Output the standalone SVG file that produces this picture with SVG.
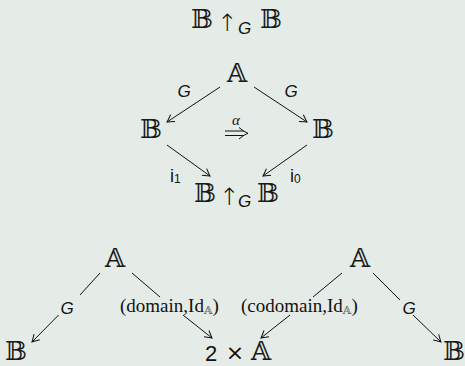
<svg xmlns="http://www.w3.org/2000/svg" width="465" height="366" viewBox="0 0 465 366">
  <defs>
    <style>
      .bb { font-family: "DejaVu Serif", "DejaVu Sans", serif; font-size: 26px; fill: #1a1a1a; }
      .lbl { font-family: "Liberation Sans", Arial, sans-serif; font-style: italic; font-size: 17px; fill: #111; }
      .sans { font-family: "Liberation Sans", Arial, sans-serif; fill: #111; }
      .rm { font-family: "Liberation Serif", "Times New Roman", serif; font-size: 19px; fill: #111; }
      .sub { font-family: "DejaVu Serif", serif; font-size: 11px; fill: #666; }
      .arr { font-family: "DejaVu Sans", sans-serif; font-weight: 200; font-size: 24px; fill: #111; }
      .edge { stroke: #111; stroke-width: 1; fill: none; }
    </style>
    <marker id="head" viewBox="-8 -5 9 10" refX="0" refY="0" markerWidth="9" markerHeight="10" markerUnits="userSpaceOnUse" orient="auto">
      <path d="M -7,-4 Q -2,-1 0,0 Q -2,1 -7,4" stroke="#111" stroke-width="1" fill="none"/>
    </marker>
  </defs>
  <rect x="0" y="0" width="465" height="366" fill="#e5ece8"/>

  <g id="title">
    <text class="bb" x="202" y="28" text-anchor="middle">𝔹</text>
    <text class="arr" x="227" y="31" text-anchor="middle">↑</text>
    <text class="lbl" x="238" y="34">G</text>
    <text class="bb" x="271" y="28" text-anchor="middle">𝔹</text>
  </g>

  <g id="nodeA">
    <text class="bb" x="237" y="82" text-anchor="middle">𝔸</text>
  </g>
  <g id="nodeB-left">
    <text class="bb" x="151" y="138" text-anchor="middle">𝔹</text>
  </g>
  <g id="nodeB-right">
    <text class="bb" x="323" y="138" text-anchor="middle">𝔹</text>
  </g>
  <g id="nodeBGB">
    <text class="bb" x="205" y="202" text-anchor="middle">𝔹</text>
    <text class="arr" x="229" y="205" text-anchor="middle">↑</text>
    <text class="lbl" x="238" y="207">G</text>
    <text class="bb" x="268" y="202" text-anchor="middle">𝔹</text>
  </g>

  <g id="nodeA-left">
    <text class="bb" x="115" y="267" text-anchor="middle">𝔸</text>
  </g>
  <g id="nodeA-right">
    <text class="bb" x="360" y="267" text-anchor="middle">𝔸</text>
  </g>
  <g id="nodeB-bottom-left">
    <text class="bb" x="16" y="360" text-anchor="middle">𝔹</text>
  </g>
  <g id="nodeB-bottom-right">
    <text class="bb" x="454" y="360" text-anchor="middle">𝔹</text>
  </g>
  <g id="node2A">
    <text class="sans" x="211" y="361" font-size="22" text-anchor="middle">2</text>
    <text x="235" y="360" font-family="DejaVu Sans, sans-serif" font-size="22" fill="#111" text-anchor="middle">×</text>
    <text class="bb" x="261" y="360" text-anchor="middle">𝔸</text>
  </g>

  <g id="connectors">
    <line class="edge" x1="220" y1="87" x2="167" y2="122" marker-end="url(#head)"/>
    <line class="edge" x1="254" y1="87" x2="307" y2="122" marker-end="url(#head)"/>
    <line class="edge" x1="167" y1="145" x2="210" y2="176" marker-end="url(#head)"/>
    <line class="edge" x1="307" y1="145" x2="263" y2="176" marker-end="url(#head)"/>
    <path class="edge" d="M 225,131 H 244 M 225,135.5 H 244"/>
    <path class="edge" d="M 239,127.5 Q 244,132 248,133.3 Q 244,134.6 239,139"/>

    <line class="edge" x1="100" y1="273" x2="80" y2="295"/>
    <line class="edge" x1="58.6" y1="315" x2="32" y2="342" marker-end="url(#head)"/>
    <line class="edge" x1="132" y1="273" x2="160" y2="297"/>
    <line class="edge" x1="183" y1="315" x2="212" y2="338" marker-end="url(#head)"/>
    <line class="edge" x1="342" y1="273" x2="313" y2="297"/>
    <line class="edge" x1="290" y1="315" x2="261" y2="338" marker-end="url(#head)"/>
    <line class="edge" x1="373" y1="273" x2="400" y2="300"/>
    <line class="edge" x1="413" y1="315" x2="441" y2="342" marker-end="url(#head)"/>
  </g>

  <g id="labels">
    <text class="lbl" x="184" y="97" text-anchor="middle">G</text>
    <text class="lbl" x="291" y="97" text-anchor="middle">G</text>
    <text x="236" y="125" text-anchor="middle" font-family="Liberation Serif, serif" font-style="italic" font-size="15" fill="#111">α</text>
    <text class="sans" x="170" y="182" font-size="18">i<tspan font-size="12" dy="1">1</tspan></text>
    <text class="sans" x="290" y="182" font-size="18">i<tspan font-size="12" dy="1">0</tspan></text>
    <text class="lbl" x="67" y="314" text-anchor="middle">G</text>
    <text class="lbl" x="409" y="314" text-anchor="middle">G</text>
    <text class="rm" x="120" y="312">(domain,Id<tspan class="sub" dy="2">𝔸</tspan><tspan dy="-2">)</tspan></text>
    <text class="rm" x="241" y="312">(codomain,Id<tspan class="sub" dy="2">𝔸</tspan><tspan dy="-2">)</tspan></text>
  </g>
</svg>
